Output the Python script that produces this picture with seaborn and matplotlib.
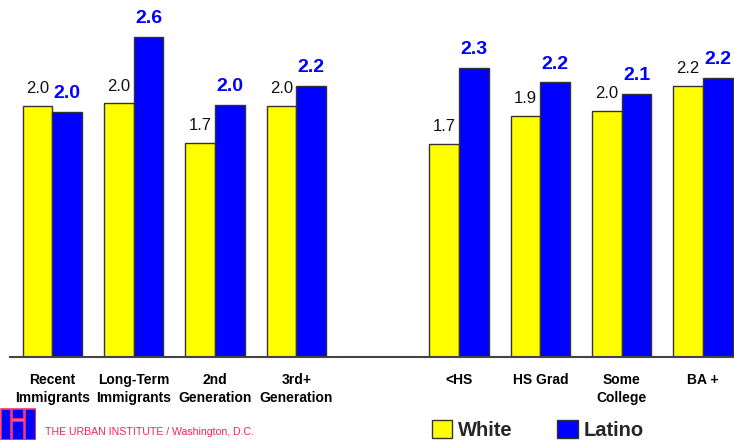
import pandas as pd
import matplotlib.pyplot as plt
import matplotlib.patches as mpatches
import seaborn as sns

categories = ["Recent\nImmigrants", "Long-Term\nImmigrants", "2nd\nGeneration", "3rd+\nGeneration",
              "<HS", "HS Grad", "Some\nCollege", "BA +"]
white = [2.04, 2.06, 1.74, 2.04, 1.73, 1.96, 2.00, 2.20]
latino = [1.99, 2.60, 2.05, 2.20, 2.35, 2.23, 2.14, 2.27]
white_labels = ["2.0", "2.0", "1.7", "2.0", "1.7", "1.9", "2.0", "2.2"]
latino_labels = ["2.0", "2.6", "2.0", "2.2", "2.3", "2.2", "2.1", "2.2"]

df = pd.DataFrame({
    "cat": categories * 2,
    "group": ["White"] * 8 + ["Latino"] * 8,
    "value": white + latino,
})
order = categories[:4] + [" "] + categories[4:]

sns.set_style("white")
plt.rcParams['font.family'] = ['Liberation Sans', 'DejaVu Sans']

fig = plt.figure(figsize=(7.34, 4.40), dpi=100)
ax = fig.add_axes([10 / 734, 83 / 440, 724 / 734, 357 / 440])

sns.barplot(data=df, x="cat", y="value", hue="group", order=order,
            hue_order=["White", "Latino"], palette=["#FFFF00", "#0000FF"], saturation=1,
            width=0.73, edgecolor="#333333", linewidth=1, ax=ax, legend=False)

ax.set_ylim(0, 2.9)
ax.set_xlim(-0.52, 8.38)
ax.set_yticks([])
ax.set_xlabel("")
ax.set_ylabel("")
for s in ["top", "right", "left"]:
    ax.spines[s].set_visible(False)
ax.spines["bottom"].set_color("#444444")
ax.spines["bottom"].set_linewidth(1.5)
ax.tick_params(axis="x", length=0, labelbottom=False)

# category labels, bold
for i, lab in enumerate(order):
    ax.text(i, -0.045, lab, transform=ax.get_xaxis_transform(), ha="center", va="top",
            fontweight="bold", fontsize=10, linespacing=1.4, color="black")

# value labels
for cont, labs, col, wt, sz in [(ax.containers[0], white_labels, "#111111", "normal", 12),
                                (ax.containers[1], latino_labels, "#0000FF", "bold", 14)]:
    ax.bar_label(cont, labels=labs, padding=7, color=col, fontweight=wt, fontsize=sz)

# legend
handles = [mpatches.Patch(facecolor="#FFFF00", edgecolor="#333333", label="White"),
           mpatches.Patch(facecolor="#0000FF", edgecolor="#333333", label="Latino")]
fig.legend(handles=handles, loc="center", bbox_to_anchor=(538 / 734, 10 / 440), ncol=2,
           frameon=False, prop={"weight": "bold", "size": 14.5}, handlelength=1.0,
           handleheight=1.0, handletextpad=0.3, columnspacing=2.2)

# footer
logo = fig.add_axes([0, 0, 36 / 734, 32 / 440])
logo.set_xlim(0, 36)
logo.set_ylim(0, 32)
logo.axis("off")
for x, y, w, h in [(0.5, 0, 10, 31.5), (12, 0, 11.5, 19), (12, 21, 11.5, 10.5), (25, 0, 10.5, 31.5)]:
    logo.add_patch(mpatches.Rectangle((x, y), w, h, facecolor="#0000FF", edgecolor="#FF3366", linewidth=1.2))
fig.text(45 / 734, 3 / 440, "THE URBAN INSTITUTE / Washington, D.C.", color="#FF2255",
         fontsize=7.6, ha="left", va="bottom")

fig.savefig("out.png", dpi=100)
